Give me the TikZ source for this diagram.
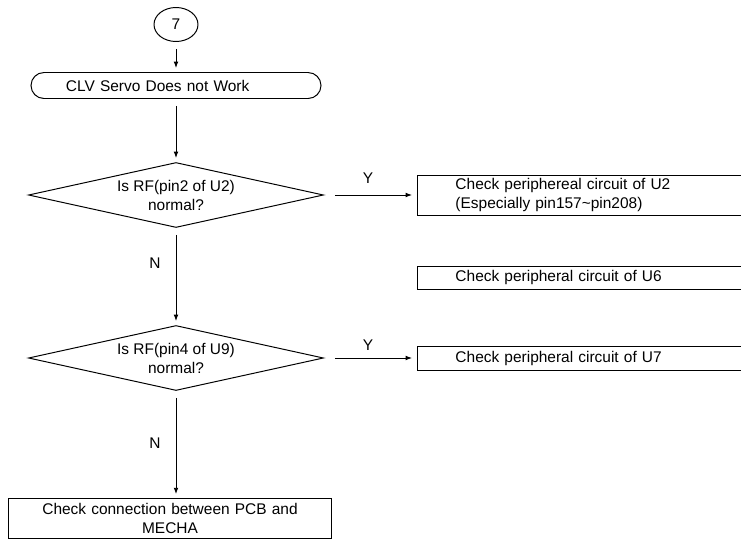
\documentclass[tikz,border=0pt]{standalone}
\usepackage{fontspec}
\setmainfont{Liberation Sans}
\usetikzlibrary{shapes.geometric,arrows.meta}

\begin{document}
\begin{tikzpicture}[x=0.25mm,y=-0.25mm,line width=0.7pt,
  every node/.style={font=\fontsize{11}{13.5}\selectfont},
  decision/.style={diamond,draw,shape aspect=4.54,inner sep=0pt,minimum width=73.75mm,minimum height=16.25mm,align=center},
  checkbox/.style={rectangle,draw,anchor=west,inner xsep=9.5mm,inner ysep=0.5mm,text width=63.5mm,align=left},
  flow/.style={-{Latex[length=1.6mm,width=1.2mm]},shorten <=1.75mm,shorten >=1mm},
  flowh/.style={-{Latex[length=1.6mm,width=1.2mm]},shorten <=2.75mm,shorten >=1.25mm}]
\useasboundingbox (0,0) rectangle (741,541);
% Flowchart
\node[ellipse,draw,minimum width=11mm,minimum height=8.5mm,inner sep=0pt] (seven) at (176,24.5) {7};
\node[rectangle,draw,rounded corners=3.25mm,minimum height=6.5mm,inner xsep=8.75mm,text width=55mm,align=left] (start) at (176,85.5) {CLV Servo Does not Work};

\node[decision] (rf2) at (176,195) {Is RF(pin2 of U2)\\normal?};
\node[decision] (rf4) at (176,358) {Is RF(pin4 of U9)\\normal?};

\node[checkbox,minimum height=10mm] (chku2) at (417,195) {Check periphereal circuit of U2\\(Especially pin157\char`~pin208)};
\node[checkbox,minimum height=5.85mm] (chku6) at (417,277.7) {Check peripheral circuit of U6};
\node[checkbox,minimum height=6mm] (chku7) at (417,358) {Check peripheral circuit of U7};

\node[rectangle,draw,minimum width=80.6mm,minimum height=9.75mm,text width=72mm,align=center] (chkpcb) at (170,518.5) {Check connection between PCB and\\MECHA};

\draw[flow] (seven) -- (start);
\draw[flow] (start) -- (rf2);
\draw[flow] (rf2) -- (rf4);
\draw[flow] (rf4.south) -- (rf4.south |- chkpcb.north);
\draw[flowh] (rf2.east) -- (chku2.west);
\draw[flowh] (rf4.east) -- (chku7.west);

\node (y1) at (368,178) {Y};
\node (y2) at (368,345) {Y};
\node (n1) at (155,263) {N};
\node (n2) at (155,443) {N};
\end{tikzpicture}
\end{document}
